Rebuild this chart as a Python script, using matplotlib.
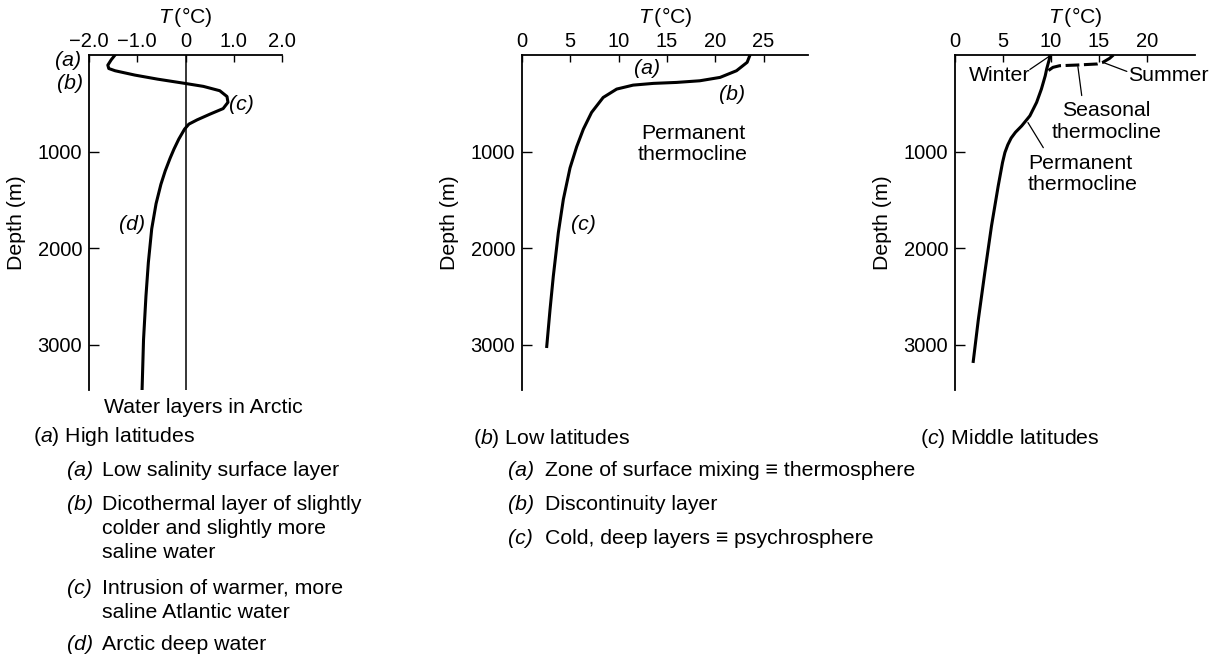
import numpy as np
import matplotlib.pyplot as plt

plt.rcParams['font.family'] = ['Liberation Sans', 'DejaVu Sans']
plt.rcParams['mathtext.fontset'] = 'custom'
plt.rcParams['mathtext.rm'] = 'Liberation Sans'
plt.rcParams['mathtext.it'] = 'Liberation Sans:italic'
FS = 15.3     # annotation text
TFS = 14.5    # tick labels

# (a) high latitudes - Arctic profile
arc_T = [-1.46, -1.54, -1.61, -1.59, -1.46, -1.05, -0.58, 0.0, 0.37, 0.71,
         0.86, 0.88, 0.78, 0.51, 0.24, 0.07, -0.02, -0.14, -0.24, -0.32,
         -0.42, -0.51, -0.61, -0.70, -0.77, -0.82, -0.87, -0.90]
arc_d = [0, 50, 105, 140, 163, 208, 250, 295, 325, 370,
         430, 490, 555, 612, 672, 716, 768, 872, 976, 1070,
         1200, 1340, 1540, 1800, 2150, 2500, 2950, 3468]

# (b) low latitudes
low_T = [23.6, 23.3, 22.2, 20.5, 18.4, 16.0, 13.6, 11.5, 9.8, 8.4, 7.2, 6.35,
         5.66, 4.97, 4.28, 3.76, 3.24, 2.9, 2.56]
low_d = [0, 76, 163, 232, 267, 284, 294, 312, 353, 440, 595, 768,
         950, 1170, 1495, 1841, 2292, 2638, 3019]

# (c) middle latitudes
win_T = [9.9, 9.83, 9.55, 9.4, 9.0, 8.5, 7.8, 6.95, 6.3, 5.85, 5.5, 5.2,
         4.95, 4.5, 3.8, 3.1, 2.43, 1.9]
win_d = [0, 42, 145, 215, 353, 491, 630, 734, 800, 860, 930, 1010,
         1114, 1357, 1772, 2257, 2741, 3174]
sum_T = [16.5, 16.1, 15.4, 14.8, 12.7, 10.9, 10.2, 9.7, 9.5]
sum_d = [0, 35, 76, 93, 104, 111, 128, 163, 190]

depth_ticks = [1000, 2000, 3000]

fig = plt.figure(figsize=(12.18, 6.58), dpi=100)
W, H = 1218, 658


def px(x, y):
    return x / W, 1 - y / H


def make_ax(left, right, xlim, xticks, xlabels):
    ax = fig.add_axes([left / W, 1 - 390 / H, (right - left) / W, 335 / H])
    ax.set_xlim(*xlim)
    ax.set_ylim(3470, 0)
    ax.spines['right'].set_visible(False)
    ax.spines['bottom'].set_visible(False)
    for s in ('left', 'top'):
        ax.spines[s].set_linewidth(1.3)
    ax.xaxis.tick_top()
    ax.xaxis.set_label_position('top')
    ax.set_xticks(xticks)
    ax.set_xticklabels(xlabels)
    ax.set_yticks(depth_ticks)
    ax.tick_params(axis='x', direction='in', length=5, width=1, pad=3, labelsize=TFS)
    ax.tick_params(axis='y', direction='in', length=7, width=1, pad=5, labelsize=TFS)
    ax.set_xlabel(r'$T\,$(°C)', fontsize=FS, labelpad=6)
    ax.set_ylabel('Depth (m)', fontsize=FS, labelpad=8)
    return ax


# panel a
ax1 = make_ax(89, 282, (-2.0, 2.0), [-2, -1, 0, 1, 2],
              ['\u22122.0', '\u22121.0', '0', '1.0', '2.0'])
ax1.axvline(0, color='black', lw=1.1)
ax1.plot(arc_T, arc_d, color='black', lw=2.2, solid_joinstyle='round')
it = dict(fontsize=FS, style='italic', ha='center', va='center', clip_on=False)
ax1.text(-2.44, 60, '(a)', **it)
ax1.text(-2.39, 300, '(b)', **it)
ax1.text(1.15, 510, '(c)', **it)
ax1.text(-1.11, 1755, '(d)', **it)
ax1.text(0.38, 3655, 'Water layers in Arctic', fontsize=FS, ha='center',
         va='center', clip_on=False)

# panel b
ax2 = make_ax(522, 808, (0, 29.6), [0, 5, 10, 15, 20, 25],
              ['0', '5', '10', '15', '20', '25'])
ax2.plot(low_T, low_d, color='black', lw=2.2, solid_joinstyle='round')
ax2.text(12.9, 145, '(a)', **it)
ax2.text(21.7, 405, '(b)', **it)
ax2.text(6.4, 1755, '(c)', **it)
ax2.text(17.7, 925, 'Permanent\nthermocline', fontsize=FS, ha='center',
         va='center', linespacing=1.15)

# panel c
ax3 = make_ax(955, 1195, (0, 25), [0, 5, 10, 15, 20],
              ['0', '5', '10', '15', '20'])
ax3.plot(win_T, win_d, color='black', lw=2.2, solid_joinstyle='round')
ax3.plot(sum_T, sum_d, color='black', lw=2.2, dashes=(4.5, 1.5))

notes = [
    ('Winter', (4.7, 215), 'center', (7.8, 150), (9.8, 15)),
    ('Summer', (22.2, 215), 'center', (17.9, 170), (15.4, 76)),
    ('Seasonal\nthermocline', (15.8, 690), 'center', (13.2, 420), (12.8, 120)),
    ('Permanent\nthermocline', (7.6, 1236), 'left', (9.2, 960), (7.6, 700)),
]
for label, pos, ha, start, end in notes:
    ax3.text(pos[0], pos[1], label, fontsize=FS, ha=ha, va='center',
             linespacing=1.15)
    ax3.annotate('', xy=end, xytext=start,
                 arrowprops=dict(arrowstyle='-', color='black', lw=0.9,
                                 shrinkA=0, shrinkB=0))

# captions
fig.text(*px(33, 437), r'($a$) High latitudes', fontsize=FS, va='center')
fig.text(*px(473, 438), r'($b$) Low latitudes', fontsize=FS, va='center')
fig.text(*px(920, 438), r'($c$) Middle latitudes', fontsize=FS, va='center')

list_a = [
    ('(a)', ['Low salinity surface layer'], 470),
    ('(b)', ['Dicothermal layer of slightly', 'colder and slightly more',
             'saline water'], 505),
    ('(c)', ['Intrusion of warmer, more', 'saline Atlantic water'], 588),
    ('(d)', ['Arctic deep water'], 645),
]
list_b = [
    ('(a)', ['Zone of surface mixing \u2261 thermosphere'], 471),
    ('(b)', ['Discontinuity layer'], 505),
    ('(c)', ['Cold, deep layers \u2261 psychrosphere'], 538),
]
for items, xl, xt in ((list_a, 67, 102), (list_b, 508, 545)):
    for tag, lines, y in items:
        fig.text(*px(xl, y), tag, fontsize=FS, style='italic', va='center')
        for i, line in enumerate(lines):
            fig.text(*px(xt, y + 24 * i), line, fontsize=FS, va='center')

fig.savefig('out.png', dpi=100)
